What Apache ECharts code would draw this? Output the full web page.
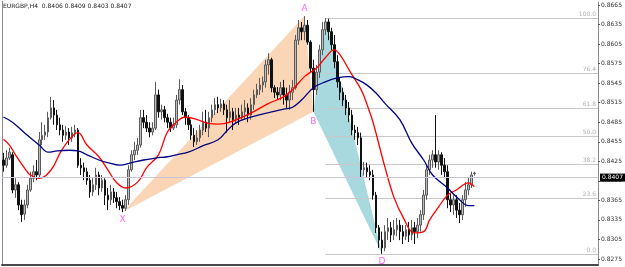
<!DOCTYPE html>
<html><head><meta charset="utf-8">
<script src="https://cdn.jsdelivr.net/npm/echarts@6/dist/echarts.min.js"></script>
<style>html,body{margin:0;padding:0;background:#fff}#c{width:625px;height:267px}</style>
</head><body><div id="c"></div>
<script>
const title = 'EURGBP,H4  0.8406 0.8409 0.8403 0.8407';
const opens = [
0.8427,0.8419,0.8430,0.8435,0.8381,0.8389,0.8358,0.8344,0.8358,0.8381,
0.8399,0.8409,0.8404,0.8458,0.8465,0.8470,0.8492,0.8507,0.8496,0.8481,
0.8473,0.8465,0.8470,0.8461,0.8469,0.8473,0.8419,0.8415,0.8409,0.8396,
0.8378,0.8389,0.8404,0.8384,0.8396,0.8373,0.8366,0.8378,0.8369,0.8363,
0.8357,0.8353,0.8366,0.8412,0.8435,0.8442,0.8450,0.8492,0.8485,0.8476,
0.8470,0.8476,0.8527,0.8501,0.8504,0.8492,0.8485,0.8476,0.8481,0.8519,
0.8535,0.8501,0.8492,0.8481,0.8465,0.8455,0.8461,0.8473,0.8485,0.8476,
0.8492,0.8504,0.8512,0.8507,0.8513,0.8504,0.8492,0.8501,0.8489,0.8496,
0.8492,0.8501,0.8507,0.8496,0.8512,0.8527,0.8535,0.8542,0.8547,0.8573,
0.8581,0.8538,0.8531,0.8527,0.8538,0.8527,0.8519,0.8531,0.8538,0.8611,
0.8630,0.8624,0.8634,0.8608,0.8568,0.8535,0.8562,0.8596,0.8627,0.8639,
0.8624,0.8604,0.8578,0.8547,0.8531,0.8519,0.8507,0.8496,0.8473,0.8469,
0.8461,0.8412,0.8415,0.8409,0.8404,0.8373,0.8323,0.8304,0.8292,0.8317,
0.8323,0.8312,0.8320,0.8327,0.8317,0.8310,0.8320,0.8312,0.8323,0.8317,
0.8327,0.8343,0.8373,0.8412,0.8427,0.8435,0.8424,0.8435,0.8419,0.8409,
0.8366,0.8358,0.8366,0.8350,0.8343,0.8366,0.8381,0.8389,0.8406];
const closes = [
0.8419,0.8430,0.8439,0.8381,0.8389,0.8358,0.8343,0.8358,0.8381,0.8399,
0.8409,0.8404,0.8458,0.8465,0.8470,0.8492,0.8507,0.8496,0.8481,0.8473,
0.8465,0.8470,0.8461,0.8469,0.8473,0.8419,0.8415,0.8409,0.8396,0.8378,
0.8389,0.8404,0.8384,0.8396,0.8373,0.8366,0.8378,0.8369,0.8363,0.8357,
0.8353,0.8366,0.8412,0.8435,0.8442,0.8450,0.8492,0.8485,0.8476,0.8470,
0.8476,0.8527,0.8501,0.8504,0.8492,0.8485,0.8476,0.8481,0.8519,0.8535,
0.8501,0.8492,0.8481,0.8465,0.8455,0.8461,0.8473,0.8485,0.8476,0.8492,
0.8504,0.8512,0.8507,0.8513,0.8504,0.8492,0.8501,0.8489,0.8496,0.8492,
0.8501,0.8507,0.8496,0.8512,0.8527,0.8535,0.8542,0.8547,0.8573,0.8581,
0.8538,0.8531,0.8527,0.8538,0.8527,0.8519,0.8531,0.8538,0.8611,0.8630,
0.8624,0.8634,0.8608,0.8568,0.8535,0.8562,0.8596,0.8627,0.8639,0.8624,
0.8604,0.8578,0.8547,0.8531,0.8519,0.8507,0.8496,0.8473,0.8469,0.8461,
0.8412,0.8415,0.8409,0.8404,0.8373,0.8323,0.8304,0.8292,0.8317,0.8323,
0.8312,0.8320,0.8327,0.8317,0.8310,0.8320,0.8312,0.8323,0.8317,0.8327,
0.8343,0.8373,0.8412,0.8427,0.8435,0.8424,0.8435,0.8419,0.8409,0.8366,
0.8358,0.8366,0.8350,0.8343,0.8366,0.8381,0.8389,0.8404,0.8407];
const lows = [
0.8409,0.8415,0.8427,0.8376,0.8369,0.8350,0.8332,0.8335,0.8353,0.8378,
0.8393,0.8396,0.8399,0.8450,0.8458,0.8462,0.8489,0.8481,0.8473,0.8465,
0.8455,0.8458,0.8450,0.8455,0.8462,0.8415,0.8404,0.8396,0.8389,0.8369,
0.8372,0.8381,0.8373,0.8378,0.8358,0.8350,0.8358,0.8361,0.8353,0.8350,
0.8347,0.8349,0.8358,0.8409,0.8427,0.8435,0.8446,0.8476,0.8470,0.8462,
0.8465,0.8473,0.8492,0.8489,0.8485,0.8476,0.8470,0.8473,0.8476,0.8512,
0.8496,0.8481,0.8473,0.8458,0.8447,0.8450,0.8455,0.8465,0.8470,0.8462,
0.8485,0.8496,0.8499,0.8501,0.8496,0.8469,0.8485,0.8473,0.8484,0.8481,
0.8489,0.8489,0.8485,0.8489,0.8504,0.8522,0.8527,0.8531,0.8538,0.8558,
0.8531,0.8522,0.8519,0.8519,0.8512,0.8507,0.8504,0.8519,0.8535,0.8604,
0.8611,0.8611,0.8604,0.8562,0.8501,0.8527,0.8553,0.8588,0.8619,0.8611,
0.8596,0.8568,0.8538,0.8519,0.8510,0.8496,0.8485,0.8465,0.8458,0.8450,
0.8401,0.8403,0.8401,0.8396,0.8366,0.8315,0.8292,0.8283,0.8287,0.8304,
0.8301,0.8304,0.8310,0.8304,0.8298,0.8304,0.8301,0.8304,0.8298,0.8307,
0.8317,0.8335,0.8366,0.8404,0.8415,0.8415,0.8412,0.8404,0.8399,0.8353,
0.8347,0.8343,0.8338,0.8330,0.8335,0.8355,0.8373,0.8384,0.8403];
const highs = [
0.8438,0.8442,0.8446,0.8439,0.8399,0.8393,0.8366,0.8366,0.8389,0.8409,
0.8419,0.8427,0.8470,0.8485,0.8481,0.8501,0.8524,0.8519,0.8504,0.8492,
0.8481,0.8479,0.8476,0.8478,0.8481,0.8476,0.8430,0.8423,0.8415,0.8404,
0.8399,0.8415,0.8409,0.8404,0.8399,0.8384,0.8389,0.8384,0.8378,0.8370,
0.8366,0.8373,0.8419,0.8442,0.8455,0.8461,0.8504,0.8504,0.8496,0.8485,
0.8485,0.8547,0.8535,0.8512,0.8510,0.8498,0.8492,0.8492,0.8527,0.8551,
0.8542,0.8507,0.8496,0.8489,0.8476,0.8473,0.8481,0.8501,0.8504,0.8501,
0.8512,0.8522,0.8524,0.8521,0.8519,0.8512,0.8519,0.8507,0.8507,0.8507,
0.8512,0.8519,0.8514,0.8522,0.8535,0.8544,0.8553,0.8555,0.8581,0.8591,
0.8584,0.8542,0.8539,0.8547,0.8550,0.8538,0.8542,0.8550,0.8619,0.8642,
0.8639,0.8648,0.8642,0.8611,0.8581,0.8573,0.8604,0.8639,0.8645,0.8644,
0.8630,0.8619,0.8588,0.8553,0.8538,0.8527,0.8516,0.8504,0.8481,0.8478,
0.8469,0.8424,0.8423,0.8419,0.8412,0.8378,0.8327,0.8317,0.8327,0.8338,
0.8332,0.8335,0.8338,0.8335,0.8327,0.8327,0.8332,0.8335,0.8332,0.8338,
0.8350,0.8381,0.8419,0.8435,0.8442,0.8496,0.8442,0.8439,0.8430,0.8419,
0.8376,0.8373,0.8373,0.8361,0.8373,0.8393,0.8401,0.8409,0.8409];

const redIdx = [0,2,4,7,9,12,16,19,22,25,28,32,35,38,41,45,48,52,55,58,61,65,68,72,76,83,89,94,97,101,105,108,111,113,116,120,122,124,128,131,134,138,141,143,146,149,152,156,158];
const redVal = [0.8459,0.8450,0.8435,0.8415,0.8404,0.8399,0.8412,0.8438,0.8458,0.8469,0.8450,0.8432,0.8412,0.8392,0.8384,0.8393,0.8415,0.8435,0.8470,0.8485,0.8493,0.8489,0.8484,0.8482,0.8485,0.8499,0.8514,0.8524,0.8535,0.8555,0.8568,0.8584,0.8596,0.8588,0.8565,0.8535,0.8512,0.8485,0.8416,0.8370,0.8340,0.8315,0.8317,0.8335,0.8355,0.8373,0.8381,0.8392,0.8386];
const blueIdx = [0,3,7,12,15,18,22,25,28,32,35,39,43,47,51,55,58,62,67,72,75,78,83,90,94,97,100,104,108,112,116,119,122,125,128,133,137,141,144,149,153,156,158];
const blueVal = [0.8493,0.8485,0.8469,0.8450,0.8439,0.8441,0.8442,0.8441,0.8435,0.8427,0.8423,0.8419,0.8423,0.8427,0.8430,0.8432,0.8435,0.8439,0.8449,0.8458,0.8472,0.8484,0.8493,0.8501,0.8505,0.8508,0.8519,0.8538,0.8547,0.8553,0.8555,0.8550,0.8542,0.8530,0.8514,0.8489,0.8453,0.8427,0.8404,0.8384,0.8366,0.8357,0.8357];

const patternNames = ['X','A','B','C','D'];
const patternIdx = [40,101,104,108,127];
const patternPrice = [0.8347,0.8648,0.8501,0.8645,0.8283];

const fibLabels = ['100.0','76.4','61.8','50.0','38.2','23.6','0.0'];
const fibPrices = [0.8645,0.8560,0.8507,0.8464,0.8421,0.8368,0.8283];
const fibStartIdx = 108;

const priceTicks = [0.8275,0.8305,0.8335,0.8365,0.8395,0.8425,0.8455,0.8485,0.8515,0.8545,0.8575,0.8605,0.8635,0.8665];
const bidPrice = 0.8407;
const categories = Array.from({length: 200}, (_, i) => String(i));

const candles = opens.map((o, i) => [o, closes[i], lows[i], highs[i]]);
const FONT = 'DejaVu Sans';

const chart = echarts.init(document.getElementById('c'));
chart.setOption({
  animation: false,
  backgroundColor: '#ffffff',
  grid: {left: 2, right: 21, top: 2, bottom: 2},
  xAxis: {
    type: 'category', data: categories, boundaryGap: true,
    axisLabel: {show: false}, axisTick: {show: false},
    axisLine: {onZero: false, lineStyle: {color: '#4a4a4a', width: 2}},
    splitLine: {show: false}
  },
  yAxis: {
    type: 'value', position: 'right', min: 0.82658, max: 0.86696, scale: true,
    axisLine: {show: true, lineStyle: {color: '#8a8a8a'}},
    axisTick: {show: true, length: 2, customValues: priceTicks, lineStyle: {color: '#555'}},
    axisLabel: {customValues: priceTicks, formatter: v => v.toFixed(4), fontSize: 6, color: '#333', margin: 3, fontFamily: FONT},
    splitLine: {show: false}
  },
  graphic: [
    {type: 'line', shape: {x1: 2.5, y1: 1, x2: 2.5, y2: 265}, style: {stroke: '#8a8a8a', lineWidth: 1}},
    {type: 'text', left: 3, top: 3, style: {text: title, fontSize: 6, fill: '#222', fontFamily: FONT}}
  ],
  series: [
    {
      type: 'custom', z: 1, silent: true,
      data: [[patternIdx[0], patternPrice[0], patternIdx[1], patternPrice[1], patternIdx[2], patternPrice[2]],
             [patternIdx[2], patternPrice[2], patternIdx[3], patternPrice[3], patternIdx[4], patternPrice[4]]],
      encode: {x: [0, 2, 4], y: [1, 3, 5]},
      renderItem: (params, api) => {
        const pts = [0, 2, 4].map(k => api.coord([api.value(k), api.value(k + 1)]));
        return {type: 'polygon', shape: {points: pts},
          style: {fill: params.dataIndex === 0 ? '#fad6b7' : '#a7d9de', stroke: null}};
      }
    },
    {
      type: 'custom', z: 2, silent: true,
      data: fibPrices.map(p => [fibStartIdx, p]),
      encode: {x: 0, y: 1},
      renderItem: (params, api) => {
        const p0 = api.coord([api.value(0), api.value(1)]);
        const right = params.coordSys.x + params.coordSys.width;
        const y = Math.round(p0[1]) + 0.5;
        return {type: 'group', children: [
          {type: 'line', shape: {x1: p0[0], y1: y, x2: right, y2: y}, style: {stroke: '#c8c8c8', lineWidth: 1}},
          {type: 'text', style: {text: fibLabels[params.dataIndex], x: right - 2, y: y - 1, align: 'right', verticalAlign: 'bottom', fontSize: 6, fill: '#b0b0b0', fontFamily: FONT}}
        ]};
      }
    },
    {
      type: 'candlestick', z: 3, barWidth: 2,
      data: candles,
      itemStyle: {color: '#bdbdbd', color0: '#111111', borderColor: '#5a5a5a', borderColor0: '#111111', borderWidth: 1},
      markLine: {
        silent: true, symbol: 'none', animation: false,
        lineStyle: {color: '#cbc3d6', type: 'solid', width: 1},
        label: {show: true, position: 'end', formatter: () => bidPrice.toFixed(4), fontSize: 6, color: '#fff',
          backgroundColor: '#000', padding: [1, 2, 1, 2], distance: 2, fontFamily: FONT},
        data: [{yAxis: bidPrice}]
      }
    },
    {
      type: 'line', z: 4, data: redIdx.map((i, k) => [i, redVal[k]]), smooth: 0.4, showSymbol: false,
      lineStyle: {color: '#ff0000', width: 1.3}
    },
    {
      type: 'line', z: 4, data: blueIdx.map((i, k) => [i, blueVal[k]]), smooth: 0.4, showSymbol: false,
      lineStyle: {color: '#000080', width: 1.3}
    },
    {
      type: 'scatter', z: 5, symbolSize: 0, silent: true,
      data: patternNames.map((n, k) => ({name: n, value: [patternIdx[k], patternPrice[k]],
        label: {show: n !== 'C', position: (n === 'A') ? 'top' : 'bottom', distance: (n === 'B') ? 5 : 3}})),
      label: {formatter: p => p.name, color: '#ff3cff', fontSize: 9, fontFamily: FONT}
    }
  ]
});
</script>
</body></html>
